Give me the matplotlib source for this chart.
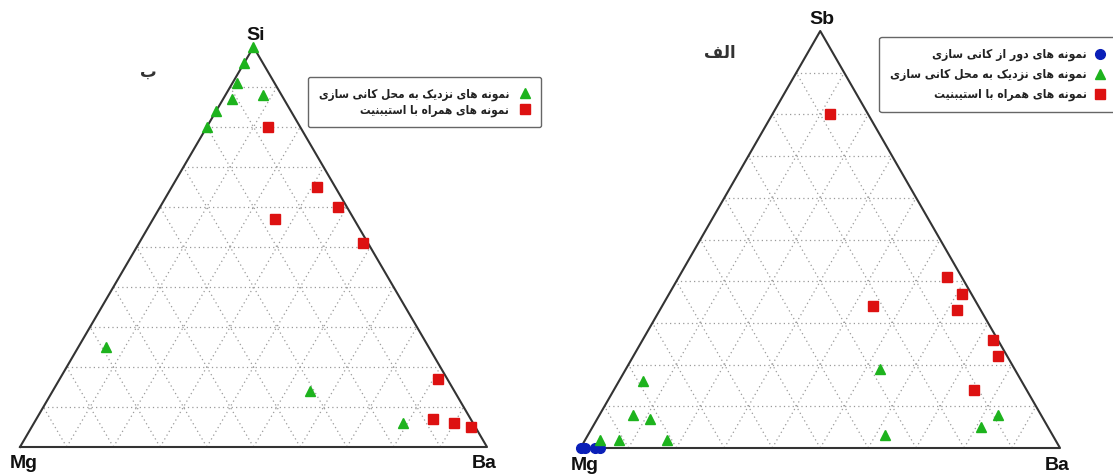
import numpy as np
import matplotlib
matplotlib.use("Agg")
import matplotlib.pyplot as plt

# ---- data (percent: Mg, Ba, top element) ----
# left diagram: Mg - Ba - Si
si_near_mg = [0, 4, 8, 4, 11, 16, 20, 69, 31, 15]
si_near_ba = [0, 0, 1, 8, 2, 0, 0, 6, 55, 79]
si_near_si = [100, 96, 91, 88, 87, 84, 80, 25, 14, 6]

si_stib_mg = [7, 4, 2, 17, 1, 2, 8, 4, 1]
si_stib_ba = [13, 31, 38, 26, 48, 81, 85, 90, 94]
si_stib_si = [80, 65, 60, 57, 51, 17, 7, 6, 5]

# right diagram: Mg - Ba - Sb
sb_far_mg = [100, 99, 97, 96]
sb_far_ba = [0, 1, 3, 4]
sb_far_sb = [0, 0, 0, 0]

sb_near_mg = [95, 91, 85, 82, 79, 81, 28, 35, 14, 9]
sb_near_ba = [3, 7, 7, 11, 5, 17, 53, 62, 81, 83]
sb_near_sb = [2, 2, 8, 7, 16, 2, 19, 3, 5, 8]

sb_stib_mg = [8, 3, 2, 5, 22, 1, 2, 11]
sb_stib_ba = [12, 56, 61, 62, 44, 73, 76, 75]
sb_stib_sb = [80, 41, 37, 33, 34, 26, 22, 14]

lbl_far = "نمونه های دور از کانی سازی"
lbl_near = "نمونه های نزدیک به محل کانی سازی"
lbl_stib = "نمونه های همراه با استیبنیت"
panel_left = "ب"
panel_right = "الف"

# ---- simple Persian shaping (matplotlib has no bidi / joining) ----
FORMS = {
    "ا": ("\uFE8D", "\uFE8E", None, None),
    "ب": ("\uFE8F", "\uFE90", "\uFE91", "\uFE92"),
    "ت": ("\uFE95", "\uFE96", "\uFE97", "\uFE98"),
    "ح": ("\uFEA1", "\uFEA2", "\uFEA3", "\uFEA4"),
    "د": ("\uFEA9", "\uFEAA", None, None),
    "ر": ("\uFEAD", "\uFEAE", None, None),
    "ز": ("\uFEAF", "\uFEB0", None, None),
    "س": ("\uFEB1", "\uFEB2", "\uFEB3", "\uFEB4"),
    "ف": ("\uFED1", "\uFED2", "\uFED3", "\uFED4"),
    "ل": ("\uFEDD", "\uFEDE", "\uFEDF", "\uFEE0"),
    "م": ("\uFEE1", "\uFEE2", "\uFEE3", "\uFEE4"),
    "ن": ("\uFEE5", "\uFEE6", "\uFEE7", "\uFEE8"),
    "ه": ("\uFEE9", "\uFEEA", "\uFEEB", "\uFEEC"),
    "و": ("\uFEED", "\uFEEE", None, None),
    "ی": ("\uFBFC", "\uFBFD", "\uFBFE", "\uFBFF"),
    "ک": ("\uFB8E", "\uFB8F", "\uFB90", "\uFB91"),
}


def shape(text):
    out = []
    for i, ch in enumerate(text):
        if ch not in FORMS:
            out.append(ch)
            continue
        prev = text[i - 1] if i > 0 else " "
        nxt = text[i + 1] if i + 1 < len(text) else " "
        joins_prev = prev in FORMS and FORMS[prev][2] is not None
        joins_next = FORMS[ch][2] is not None and nxt in FORMS
        iso, fin, ini, med = FORMS[ch]
        if joins_prev and joins_next:
            out.append(med)
        elif joins_prev:
            out.append(fin)
        elif joins_next:
            out.append(ini)
        else:
            out.append(iso)
    return "".join(out)[::-1]


H = np.sqrt(3) / 2


def tern(mg, ba, top):
    mg, ba, top = (np.asarray(v, float) for v in (mg, ba, top))
    s = mg + ba + top
    return (ba + top / 2) / s, top / s * H


W, HT = 1113, 475
fig = plt.figure(figsize=(W / 100, HT / 100), dpi=100)

GREEN = "#1db31d"
RED = "#dd1111"
BLUE = "#0a1fb8"
FA = {"family": "DejaVu Sans", "weight": "bold", "stretch": "condensed"}


def triangle(rect, top_name):
    ax = fig.add_axes(rect)
    ax.set_xlim(0, 1)
    ax.set_ylim(0, H)
    ax.axis("off")
    for i in range(1, 10):
        f = i / 10
        for a, b in [((1 - f, 0, f), (0, 1 - f, f)),
                     ((1 - f, f, 0), (0, f, 1 - f)),
                     ((f, 1 - f, 0), (f, 0, 1 - f))]:
            x, y = tern(*zip(a, b))
            ax.plot(x, y, ls=(0, (1, 2.5)), color="#9a9a9a", lw=0.9, zorder=1)
    x, y = tern([1, 0, 0, 1], [0, 1, 0, 0], [0, 0, 1, 0])
    ax.plot(x, y, color="#333333", lw=1.5, zorder=2, clip_on=False)
    kw = dict(textcoords="offset pixels", fontsize=14, fontweight="bold",
              ha="center", family="Liberation Sans", color="#111111")
    ax.annotate("Mg", (0, 0), xytext=(4, -17), va="center", **kw)
    ax.annotate("Ba", (1, 0), xytext=(-3, -17), va="center", **kw)
    ax.annotate(top_name, (0.5, H), xytext=(2, 3), va="bottom", **kw)
    return ax


def add_legend(ax, right, top, size, spacing, pad):
    leg = ax.legend(loc="upper right", bbox_to_anchor=(right / W, 1 - top / HT),
                    bbox_transform=fig.transFigure, markerfirst=False,
                    prop=dict(FA, size=size), handlelength=0.9,
                    handletextpad=pad, labelspacing=spacing, borderpad=0.9,
                    borderaxespad=0, fancybox=True, framealpha=1,
                    edgecolor="#666666")
    leg.get_frame().set_linewidth(1.0)
    for t in leg.get_texts():
        t.set_color("#222222")
    return leg


# left diagram
axl = triangle([20 / W, (HT - 447) / HT, 467 / W, 400 / HT], "Si")
x, y = tern(si_near_mg, si_near_ba, si_near_si)
axl.plot(x, y, "^", color=GREEN, ms=7.5, ls="none", clip_on=False,
         zorder=5, label=shape(lbl_near))
x, y = tern(si_stib_mg, si_stib_ba, si_stib_si)
axl.plot(x, y, "s", color=RED, ms=6.5, ls="none", clip_on=False,
         zorder=5, label=shape(lbl_stib))
add_legend(axl, 541, 77, 8.5, 0.2, 0.9)
fig.text(148 / W, 1 - 72 / HT, shape(panel_left), ha="center", va="center",
         fontsize=12, fontweight="bold", color="#333333", family="DejaVu Sans")

# right diagram
axr = triangle([580.5 / W, (HT - 448) / HT, 479.5 / W, 417 / HT], "Sb")
x, y = tern(sb_far_mg, sb_far_ba, sb_far_sb)
axr.plot(x, y, "o", color=BLUE, ms=7, ls="none", clip_on=False,
         zorder=5, label=shape(lbl_far))
x, y = tern(sb_near_mg, sb_near_ba, sb_near_sb)
axr.plot(x, y, "^", color=GREEN, ms=7.5, ls="none", clip_on=False,
         zorder=5, label=shape(lbl_near))
x, y = tern(sb_stib_mg, sb_stib_ba, sb_stib_sb)
axr.plot(x, y, "s", color=RED, ms=6.5, ls="none", clip_on=False,
         zorder=5, label=shape(lbl_stib))
add_legend(axr, 1116, 37, 8.7, 0.55, 0.6)
fig.text(720 / W, 1 - 53 / HT, shape(panel_right), ha="center", va="center",
         fontsize=12, fontweight="bold", color="#333333", family="DejaVu Sans")

fig.savefig("out.png", dpi=100)
